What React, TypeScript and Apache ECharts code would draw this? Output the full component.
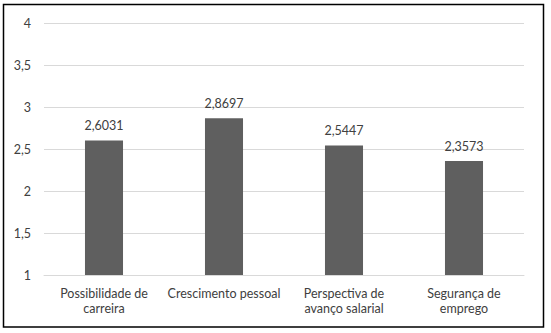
import React, { useEffect, useRef } from "react";
import * as echarts from "echarts";

const categories = [
  "Possibilidade de\ncarreira",
  "Crescimento pessoal",
  "Perspectiva de\navanço salarial",
  "Segurança de\nemprego",
];
const values = [2.6031, 2.8697, 2.5447, 2.3573];
const yMin = 1;
const yMax = 4;
const yStep = 0.5;

const fmt = (v: number) => String(v).replace(".", ",");

export default function App() {
  const ref = useRef<HTMLDivElement>(null);
  useEffect(() => {
    if (!ref.current) return;
    const chart = echarts.init(ref.current, null, { renderer: "svg" });
    const font = "Lato, 'Open Sans', sans-serif";
    chart.setOption({
      animation: false,
      backgroundColor: "#ffffff",
      textStyle: { fontFamily: font },
      grid: { left: 44, right: 27, top: 23.3, bottom: 58, containLabel: false },
      graphic: [
        {
          type: "rect",
          shape: { x: 3.5, y: 4.5, width: 540, height: 322.5 },
          style: { fill: "none", stroke: "#000000", lineWidth: 1.5 },
          silent: true,
        },
      ],
      xAxis: {
        type: "category",
        data: categories,
        axisTick: { show: false },
        axisLine: { show: true, lineStyle: { color: "#d9d9d9", width: 1 } },
        axisLabel: {
          color: "#404040",
          fontSize: 12.5,
          fontFamily: font,
          margin: 11,
          lineHeight: 15,
          interval: 0,
        },
      },
      yAxis: {
        type: "value",
        min: yMin,
        max: yMax,
        interval: yStep,
        axisLine: { show: false },
        axisTick: { show: false },
        splitLine: { lineStyle: { color: "#d9d9d9", width: 1 } },
        axisLabel: {
          color: "#404040",
          fontSize: 12.5,
          fontFamily: font,
          margin: 13,
          formatter: (v: number) => fmt(v),
        },
      },
      series: [
        {
          type: "bar",
          data: values,
          barWidth: "31.7%",
          itemStyle: { color: "#5f5f5f" },
          label: {
            show: true,
            position: "top",
            distance: 8,
            color: "#404040",
            fontSize: 12.5,
            fontFamily: font,
            formatter: (p: any) => fmt(p.value),
          },
        },
      ],
    });
    return () => chart.dispose();
  }, []);
  return (
    <div
      ref={ref}
      style={{ position: "absolute", left: 0, top: 0, width: 551, height: 333 }}
    />
  );
}
